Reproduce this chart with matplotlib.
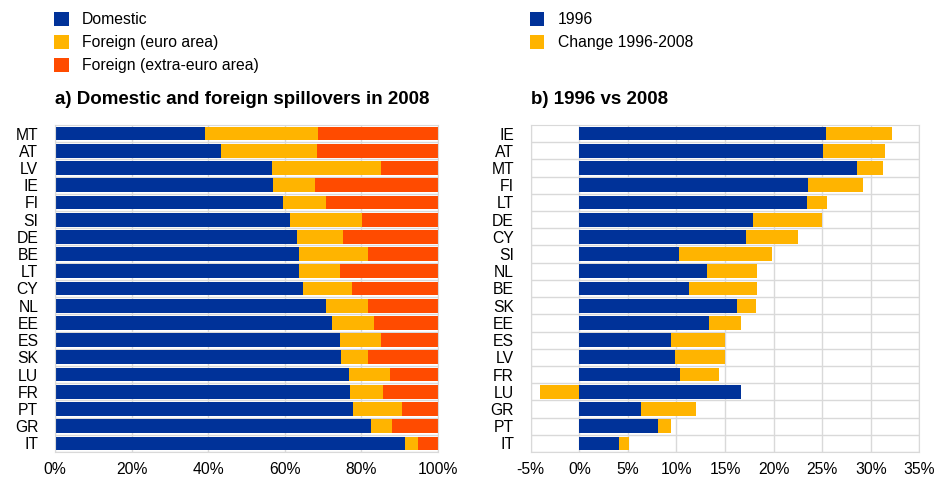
import numpy as np
import matplotlib
matplotlib.use("Agg")
import matplotlib.pyplot as plt
from matplotlib.ticker import FuncFormatter, MultipleLocator

plt.rcParams['font.family'] = ['Liberation Sans', 'DejaVu Sans']

# panel a) shares in 2008 (%)
countries_a = ['MT', 'AT', 'LV', 'IE', 'FI', 'SI', 'DE', 'BE', 'LT', 'CY',
               'NL', 'EE', 'ES', 'SK', 'LU', 'FR', 'PT', 'GR', 'IT']
domestic = [39.2, 43.3, 56.7, 57.0, 59.6, 61.4, 63.2, 63.8, 63.8, 64.8,
            70.7, 72.3, 74.5, 74.8, 76.7, 76.9, 77.9, 82.6, 91.5]
foreign_ea = [29.4, 25.1, 28.4, 10.8, 11.1, 18.7, 11.9, 18.0, 10.7, 12.7,
              11.1, 11.1, 10.5, 7.0, 10.7, 8.8, 12.8, 5.5, 3.4]
foreign_xea = [100 - d - f for d, f in zip(domestic, foreign_ea)]

# panel b) 1996 level and change to 2008 (%)
countries_b = ['IE', 'AT', 'MT', 'FI', 'LT', 'DE', 'CY', 'SI', 'NL', 'BE',
               'SK', 'EE', 'ES', 'LV', 'FR', 'LU', 'GR', 'PT', 'IT']
level_1996 = [25.4, 25.1, 28.6, 23.5, 23.4, 17.9, 17.2, 10.3, 13.1, 11.3,
              16.2, 13.4, 9.4, 9.9, 10.4, 16.6, 6.4, 8.1, 4.1]
change = [6.8, 6.4, 2.7, 5.7, 2.1, 7.1, 5.3, 9.5, 5.2, 7.0,
          2.0, 3.2, 5.6, 5.1, 4.0, -4.0, 5.6, 1.3, 1.0]

blue = '#003299'
yellow = '#FFB400'
orange = '#FF4B00'
grid_c = '#d9d9d9'
fs = 11.3

fig = plt.figure(figsize=(9.43, 4.8), dpi=100)
H, W = 480.0, 943.0
top, bottom = 125, 452
axa = fig.add_axes([55 / W, 1 - bottom / H, (438 - 55) / W, (bottom - top) / H])
axb = fig.add_axes([530.7 / W, 1 - bottom / H, (919.3 - 530.7) / W, (bottom - top) / H])


def style(ax, n):
    ax.set_ylim(n - 0.5, -0.5)
    ax.set_yticks(np.arange(n) + 0.5, minor=True)
    ax.grid(True, which='minor', axis='y', color=grid_c, lw=1)
    ax.grid(True, which='major', axis='x', color=grid_c, lw=1)
    ax.set_axisbelow(True)
    ax.tick_params(axis='both', which='both', length=0, labelsize=fs)
    ax.tick_params(axis='y', pad=12)
    ax.tick_params(axis='x', pad=7)
    for s in ax.spines.values():
        s.set_color(grid_c)


def add_legend(ax):
    ax.legend(loc='upper left', bbox_to_anchor=(-0.003, 1.345), frameon=False,
              fontsize=fs, handlelength=0.95, handleheight=0.95, handletextpad=0.85,
              labelspacing=0.5, borderaxespad=0, borderpad=0)


# panel a
y = np.arange(len(countries_a))
h = 0.8
dom = np.array(domestic)
fea = np.array(foreign_ea)
fxe = np.array(foreign_xea)
axa.barh(y, dom, height=h, color=blue, label='Domestic')
axa.barh(y, fea, left=dom, height=h, color=yellow, label='Foreign (euro area)')
axa.barh(y, fxe, left=dom + fea, height=h, color=orange, label='Foreign (extra-euro area)')
axa.set_xlim(0, 100)
axa.xaxis.set_major_locator(MultipleLocator(20))
axa.xaxis.set_major_formatter(FuncFormatter(lambda v, p: f'{v:.0f}%'))
axa.set_yticks(y)
axa.set_yticklabels(countries_a)
style(axa, len(countries_a))
axa.set_title('a) Domestic and foreign spillovers in 2008', loc='left',
              fontsize=13.5, fontweight='bold', pad=15)
add_legend(axa)

# panel b
yb = np.arange(len(countries_b))
lvl = np.array(level_1996)
chg = np.array(change)
axb.barh(yb, lvl, height=h, color=blue, label='1996')
axb.barh(yb, chg, left=np.where(chg >= 0, lvl, 0), height=h, color=yellow,
         label='Change 1996-2008')
axb.set_xlim(-5, 35)
axb.xaxis.set_major_locator(MultipleLocator(5))
axb.xaxis.set_major_formatter(FuncFormatter(lambda v, p: f'{v:.0f}%'))
axb.set_yticks(yb)
axb.set_yticklabels(countries_b)
style(axb, len(countries_b))
axb.set_title('b) 1996 vs 2008', loc='left', fontsize=13.5, fontweight='bold', pad=15)
add_legend(axb)

fig.savefig('out.png', dpi=100)
